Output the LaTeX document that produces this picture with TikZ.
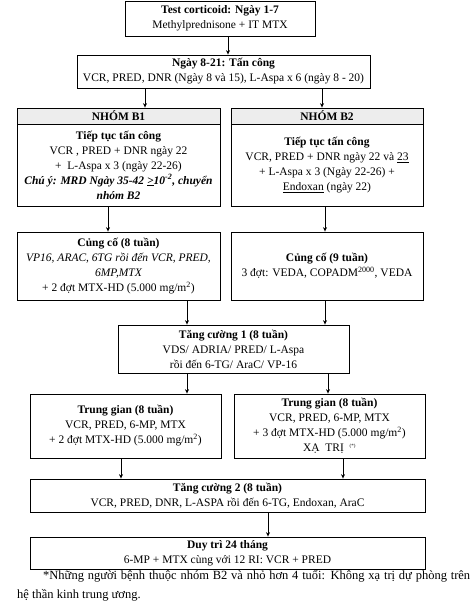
\documentclass[tikz,border=0pt]{standalone}
\usepackage{fontspec}
\setmainfont{Liberation Serif}
\usetikzlibrary{arrows.meta,positioning}
\definecolor{hdGray}{HTML}{EDEDED}
\tikzset{
  stagebox/.style={draw, line width=0.8pt, align=center, inner sep=1pt,
    font=\fontsize{11.5}{15}\selectfont},
  headbox/.style={stagebox, fill=hdGray, minimum height=16pt,
    font=\fontsize{11.5}{15}\selectfont\bfseries},
  flowarr/.style={-{Stealth[length=4.5pt,width=4pt]}, line width=0.7pt},
  footnote/.style={font=\fontsize{12.5}{19}\selectfont, text width=453pt,
    align=justify, inner sep=0pt, anchor=north west}
}

\begin{document}
\begin{tikzpicture}[x=1pt, y=-1pt]
  \useasboundingbox (0,0) rectangle (474,604);
  % induction
  \node[stagebox, minimum width=190pt, minimum height=35pt] (test) at (220,18.5)
    {\textbf{Test corticoid: Ngày 1-7}\\Methylprednisone + IT MTX};
  \node[stagebox, minimum width=293pt, minimum height=33pt] (atk) at (223.5,71.5)
    {\textbf{Ngày 8-21: Tấn công}\\VCR, PRED, DNR (Ngày 8 và 15), L-Aspa x 6 (ngày 8 - 20)};
  % risk groups
  \node[headbox, minimum width=203pt] (b1h) at (118.5,116) {NHÓM B1};
  \node[stagebox, minimum width=203pt, minimum height=82pt] (b1) at (118.5,165)
    {\textbf{Tiếp tục tấn công}\\VCR , PRED + DNR ngày 22\\+~ L-Aspa x 3 (ngày 22-26)\\
     {\bfseries\itshape Chú ý: MRD Ngày 35-42 \underline{>}10\textsuperscript{-2}, chuyển}\\
     {\bfseries\itshape nhóm B2}};
  \node[headbox, minimum width=192pt] (b2h) at (327,116) {NHÓM B2};
  \node[stagebox, minimum width=192pt, minimum height=82pt] (b2) at (327,165)
    {\textbf{Tiếp tục tấn công}\\VCR, PRED + DNR ngày 22 và \underline{23}\\
     + L-Aspa x 3 (Ngày 22-26) +\\\underline{Endoxan} (ngày 22)};
  % consolidation
  \node[stagebox, minimum width=203pt, minimum height=68pt] (c1) at (118.5,266)
    {\textbf{Củng cố (8 tuần)}\\{\itshape VP16, ARAC, 6TG rồi đến VCR, PRED,}\\
     {\itshape 6MP,MTX}\\+ 2 đợt MTX-HD (5.000 mg/m\textsuperscript{2})};
  \node[stagebox, minimum width=192pt, minimum height=68pt] (c2) at (327,266)
    {\textbf{Củng cố (9 tuần)}\\3 đợt: VEDA, COPADM\textsuperscript{2000}, VEDA};
  \node[stagebox, minimum width=231pt, minimum height=48pt] (t1) at (233.5,349)
    {\textbf{Tăng cường 1 (8 tuần)}\\VDS/ ADRIA/ PRED/ L-Aspa\\rồi đến 6-TG/ AraC/ VP-16};
  % interim
  \node[stagebox, minimum width=191pt, minimum height=64pt] (i1) at (125.5,426)
    {\textbf{Trung gian (8 tuần)}\\VCR, PRED, 6-MP, MTX\\+ 2 đợt MTX-HD (5.000 mg/m\textsuperscript{2})};
  \node[stagebox, minimum width=191pt, minimum height=64pt] (i2) at (329.5,426)
    {\textbf{Trung gian (8 tuần)}\\VCR, PRED, 6-MP, MTX\\+ 3 đợt MTX-HD (5.000 mg/m\textsuperscript{2})\\
     XẠ~ TRỊ~ \textsuperscript{\tiny(*)}};
  \node[stagebox, minimum width=395pt, minimum height=33pt] (t2) at (227.5,495.5)
    {\textbf{Tăng cường 2 (8 tuần)}\\VCR, PRED, DNR, L-ASPA rồi đến 6-TG, Endoxan, AraC};
  \node[stagebox, minimum width=395pt, minimum height=32pt] (maint) at (227.5,553)
    {\textbf{Duy trì 24 tháng}\\6-MP + MTX cùng với 12 RI: VCR + PRED};
  \node[footnote] (fn) at (17,570)
    {\hspace*{26pt}*Những người bệnh thuộc nhóm B2 và nhỏ hơn 4 tuổi: Không xạ trị dự phòng trên\linebreak
     hệ thần kinh trung ương.};
  % connectors
  \draw[flowarr] (test.south -| 228,0) -- (atk.north -| 228,0);
  \draw[flowarr] (atk.south -| 145,0) -- (b1h.north -| 145,0);
  \draw[flowarr] (atk.south -| 322,0) -- (b2h.north -| 322,0);
  \draw[flowarr] (b1.south -| 108,0) -- (c1.north -| 108,0);
  \draw[flowarr] (b2.south -| 325,0) -- (c2.north -| 325,0);
  \draw[flowarr] (c1.south -| 187,0) -- (t1.north -| 187,0);
  \draw[flowarr] (c2.south -| 325,0) -- (t1.north -| 325,0);
  \draw[flowarr] (t1.south -| 187,0) -- (i1.north -| 187,0);
  \draw[flowarr] (t1.south -| 328,0) -- (i2.north -| 328,0);
  \draw[flowarr] (i1.south -| 121,0) -- (t2.north -| 121,0);
  \draw[flowarr] (i2.south -| 343,0) -- (t2.north -| 343,0);
  \draw[flowarr] (t2.south -| 268,0) -- (maint.north -| 268,0);
\end{tikzpicture}
\end{document}
